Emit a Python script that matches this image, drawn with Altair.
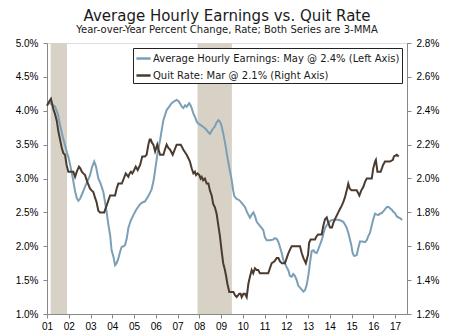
import altair as alt
import pandas as pd

# ---- data -------------------------------------------------------------
ahe_t = [2001.0, 2001.2, 2001.37, 2001.5, 2001.6, 2001.72, 2001.83, 2001.92, 2001.98, 2002.05,
         2002.13, 2002.2, 2002.29, 2002.37, 2002.44, 2002.52, 2002.6, 2002.75, 2002.85, 2002.98,
         2003.07, 2003.17, 2003.25, 2003.36, 2003.47, 2003.59, 2003.67, 2003.74, 2003.82, 2003.9,
         2003.97, 2004.05, 2004.13, 2004.2, 2004.28, 2004.36, 2004.43, 2004.52, 2004.59, 2004.67,
         2004.74, 2004.85, 2004.97, 2005.1, 2005.28, 2005.4, 2005.5, 2005.66, 2005.81, 2005.9,
         2005.97, 2006.07, 2006.2, 2006.28, 2006.35, 2006.5, 2006.62, 2006.73, 2006.85, 2006.96,
         2007.05, 2007.11, 2007.2, 2007.27, 2007.35, 2007.42, 2007.54, 2007.6, 2007.65, 2007.72,
         2007.8, 2007.88, 2007.96, 2008.1, 2008.19, 2008.3, 2008.4, 2008.49, 2008.6, 2008.72,
         2008.8, 2008.88, 2008.95, 2009.02, 2009.1, 2009.2, 2009.29, 2009.4, 2009.49, 2009.55,
         2009.61, 2009.72, 2009.84, 2009.95, 2010.1, 2010.2, 2010.33, 2010.42, 2010.49, 2010.56,
         2010.64, 2010.79, 2010.94, 2011.02, 2011.1, 2011.25, 2011.4, 2011.48, 2011.56, 2011.64,
         2011.71, 2011.79, 2011.86, 2012.02, 2012.1, 2012.17, 2012.25, 2012.32, 2012.4, 2012.48,
         2012.55, 2012.63, 2012.71, 2012.79, 2012.86, 2012.94, 2013.02, 2013.09, 2013.17, 2013.25,
         2013.32, 2013.4, 2013.5, 2013.63, 2013.72, 2013.78, 2013.86, 2013.93, 2014.05, 2014.16,
         2014.3, 2014.39, 2014.5, 2014.62, 2014.7, 2014.78, 2014.85, 2014.92, 2015.0, 2015.05,
         2015.11, 2015.17, 2015.24, 2015.3, 2015.39, 2015.5, 2015.62, 2015.7, 2015.77, 2015.85,
         2015.93, 2016.0, 2016.08, 2016.15, 2016.23, 2016.31, 2016.39, 2016.5, 2016.62, 2016.7,
         2016.77, 2016.85, 2016.92, 2017.0, 2017.08, 2017.2, 2017.33]
ahe_v = [4.13, 4.10, 4.06, 3.95, 3.79, 3.62, 3.49, 3.38, 3.32, 3.22,
         3.10, 2.98, 2.81, 2.71, 2.67, 2.70, 2.76, 2.88, 2.95, 3.05,
         3.17, 3.25, 3.18, 3.00, 2.92, 2.80, 2.65, 2.51, 2.32, 2.17,
         1.94, 1.85, 1.72, 1.75, 1.82, 1.92, 1.99, 2.00, 2.02, 2.12,
         2.27, 2.38, 2.46, 2.54, 2.62, 2.65, 2.66, 2.74, 2.84, 2.97,
         3.12, 3.35, 3.57, 3.73, 3.86, 4.01, 4.06, 4.11, 4.14, 4.16,
         4.14, 4.11, 4.06, 4.04, 4.08, 4.06, 4.11, 4.08, 4.04, 3.97,
         3.91, 3.84, 3.81, 3.78, 3.76, 3.73, 3.69, 3.66, 3.72, 3.77,
         3.83, 3.86, 3.84, 3.78, 3.67, 3.50, 3.32, 3.13, 2.98, 2.84,
         2.74, 2.70, 2.68, 2.64, 2.58, 2.50, 2.42, 2.47, 2.50, 2.45,
         2.36, 2.30, 2.24, 2.13, 2.09, 2.09, 2.10, 2.12, 2.11, 2.06,
         1.99, 1.90, 1.80, 1.69, 1.64, 1.56, 1.55, 1.59, 1.56, 1.50,
         1.42, 1.39, 1.36, 1.33, 1.35, 1.43, 1.58, 1.76, 1.93, 1.94,
         1.91, 1.90, 1.98, 2.09, 2.20, 2.27, 2.31, 2.34, 2.38, 2.39,
         2.39, 2.39, 2.38, 2.36, 2.32, 2.27, 2.20, 2.11, 2.00, 1.90,
         1.86, 1.86, 1.87, 1.96, 2.07, 2.07, 2.06, 2.09, 2.15, 2.20,
         2.31, 2.40, 2.48, 2.47, 2.46, 2.48, 2.49, 2.53, 2.58, 2.58,
         2.56, 2.54, 2.51, 2.49, 2.44, 2.42, 2.39]

quit_t = [2001.0, 2001.08, 2001.18, 2001.29, 2001.37, 2001.45, 2001.52, 2001.6, 2001.68, 2001.75,
          2001.83, 2001.9, 2001.98, 2002.1, 2002.21, 2002.29, 2002.37, 2002.47, 2002.53, 2002.6,
          2002.67, 2002.75, 2002.85, 2002.98, 2003.05, 2003.13, 2003.2, 2003.28, 2003.36, 2003.44,
          2003.55, 2003.63, 2003.74, 2003.82, 2003.9, 2004.0, 2004.13, 2004.2, 2004.28, 2004.36,
          2004.44, 2004.53, 2004.62, 2004.68, 2004.74, 2004.8, 2004.86, 2004.92, 2004.97, 2005.08,
          2005.17, 2005.28, 2005.38, 2005.5, 2005.58, 2005.66, 2005.72, 2005.77, 2005.83, 2005.89,
          2005.97, 2006.07, 2006.13, 2006.2, 2006.35, 2006.42, 2006.5, 2006.58, 2006.66, 2006.78,
          2006.87, 2006.96, 2007.05, 2007.15, 2007.27, 2007.42, 2007.5, 2007.57, 2007.65, 2007.73,
          2007.8, 2007.85, 2007.92, 2008.0, 2008.06, 2008.11, 2008.18, 2008.26, 2008.34, 2008.42,
          2008.49, 2008.57, 2008.64, 2008.72, 2008.8, 2008.88, 2008.95, 2009.03, 2009.1, 2009.18,
          2009.24, 2009.29, 2009.38, 2009.48, 2009.57, 2009.65, 2009.72, 2009.78, 2009.84, 2009.9,
          2009.95, 2010.03, 2010.1, 2010.18, 2010.26, 2010.33, 2010.41, 2010.48, 2010.56, 2010.64,
          2010.71, 2010.79, 2010.94, 2011.1, 2011.17, 2011.25, 2011.33, 2011.45, 2011.56, 2011.64,
          2011.71, 2011.8, 2011.94, 2012.02, 2012.1, 2012.17, 2012.25, 2012.4, 2012.55, 2012.63,
          2012.71, 2012.79, 2012.9, 2013.0, 2013.05, 2013.12, 2013.24, 2013.32, 2013.4, 2013.47,
          2013.63, 2013.7, 2013.78, 2013.86, 2013.93, 2014.01, 2014.1, 2014.17, 2014.24, 2014.39,
          2014.47, 2014.55, 2014.62, 2014.7, 2014.78, 2014.85, 2014.92, 2015.0, 2015.12, 2015.24,
          2015.36, 2015.45, 2015.54, 2015.62, 2015.7, 2015.8, 2015.93, 2016.0, 2016.08, 2016.12,
          2016.19, 2016.27, 2016.34, 2016.45, 2016.54, 2016.65, 2016.77, 2016.9, 2016.95, 2017.08,
          2017.17]
quit_v = [2.43, 2.45, 2.47, 2.41, 2.38, 2.34, 2.28, 2.23, 2.18, 2.15,
          2.14, 2.08, 2.04, 2.04, 2.04, 2.01, 2.04, 2.07, 2.06, 2.04,
          2.03, 2.02, 1.98, 1.94, 1.93, 1.92, 1.89, 1.86, 1.81, 1.80,
          1.80, 1.80, 1.84, 1.87, 1.90, 1.90, 1.90, 1.94, 1.97, 1.97,
          1.97, 2.00, 2.03, 2.02, 2.01, 2.03, 2.04, 2.03, 2.04, 2.07,
          2.05, 2.08, 2.13, 2.13, 2.14, 2.20, 2.23, 2.23, 2.21, 2.20,
          2.16, 2.20, 2.17, 2.14, 2.14, 2.17, 2.20, 2.18, 2.17, 2.14,
          2.17, 2.20, 2.20, 2.20, 2.17, 2.14, 2.12, 2.10, 2.06, 2.03,
          2.04, 2.02, 2.03, 2.02, 2.00, 2.01, 1.99, 2.00, 1.97, 1.97,
          1.93, 1.90, 1.85, 1.83, 1.79, 1.72, 1.66, 1.57, 1.50, 1.46,
          1.42, 1.38, 1.33, 1.33, 1.33, 1.31, 1.30, 1.31, 1.32, 1.32,
          1.30, 1.32, 1.32, 1.30, 1.38, 1.42, 1.46, 1.44, 1.47, 1.46,
          1.46, 1.44, 1.44, 1.44, 1.44, 1.47, 1.50, 1.51, 1.53, 1.53,
          1.51, 1.50, 1.50, 1.53, 1.56, 1.58, 1.60, 1.60, 1.60, 1.60,
          1.56, 1.53, 1.50, 1.55, 1.62, 1.64, 1.64, 1.64, 1.66, 1.67,
          1.67, 1.72, 1.76, 1.77, 1.74, 1.71, 1.71, 1.74, 1.76, 1.80,
          1.82, 1.84, 1.86, 1.89, 1.93, 1.97, 1.94, 1.93, 1.93, 1.93,
          1.90, 1.93, 1.95, 1.98, 2.00, 2.00, 2.00, 2.06, 2.10, 2.11,
          2.04, 2.04, 2.04, 2.08, 2.10, 2.10, 2.10, 2.11, 2.13, 2.14,
          2.13]

rec_start = [2001.17, 2007.92]
rec_end = [2001.92, 2009.5]

year_ticks = list(range(2001, 2018))
left_ticks = [1.0, 1.5, 2.0, 2.5, 3.0, 3.5, 4.0, 4.5, 5.0]
right_ticks = [1.2, 1.4, 1.6, 1.8, 2.0, 2.2, 2.4, 2.6, 2.8]

label_ahe = "Average Hourly Earnings: May @ 2.4% (Left Axis)"
label_quit = "Quit Rate: Mar @ 2.1% (Right Axis)"

# ---- chart ------------------------------------------------------------
FONT = "DejaVu Sans"
BLUE = "#7b9fb7"
BROWN = "#4a3b30"
SHADE = "#d8d1c5"
AX = "#555555"

ahe_df = pd.DataFrame({"t": ahe_t, "v": ahe_v, "s": label_ahe})
quit_df = pd.DataFrame({"t": quit_t, "v": quit_v, "s": label_quit})
rec_df = pd.DataFrame({"start": rec_start, "end": rec_end})

x_scale = alt.Scale(domain=[2001, 2017.55], nice=False, zero=False)
x_axis = alt.Axis(values=year_ticks, format="d", labelExpr="substring(datum.label, 2)",
                  tickSize=4, labelPadding=3, grid=False, title=None,
                  labelFontSize=10, labelFlush=False)

color_scale = alt.Scale(domain=[label_ahe, label_quit], range=[BLUE, BROWN])
legend = alt.Legend(title=None, orient="none", legendX=86, legendY=5,
                    symbolType="stroke", symbolSize=200, symbolStrokeWidth=2.5,
                    labelFont=FONT, labelFontSize=10, labelColor="#1a1a1a",
                    labelLimit=400,
                    strokeColor="#222222", fillColor="white", padding=2,
                    rowPadding=3, labelOffset=1, cornerRadius=0)

rec = alt.Chart(rec_df).mark_rect(color=SHADE).encode(
    x=alt.X("start:Q", scale=x_scale, axis=x_axis),
    x2="end:Q",
)

ahe = alt.Chart(ahe_df).mark_line(strokeWidth=2).encode(
    x=alt.X("t:Q", scale=x_scale, axis=x_axis),
    y=alt.Y("v:Q", scale=alt.Scale(domain=[1, 5], nice=False, zero=False),
            axis=alt.Axis(values=left_ticks, orient="left", title=None, grid=False,
                          labelExpr="format(datum.value, '.1f') + '%'",
                          tickSize=4, labelPadding=5, labelFontSize=10)),
    color=alt.Color("s:N", scale=color_scale, legend=legend),
)

quit = alt.Chart(quit_df).mark_line(strokeWidth=2).encode(
    x=alt.X("t:Q", scale=x_scale, axis=x_axis),
    y=alt.Y("v:Q", scale=alt.Scale(domain=[1.2, 2.8], nice=False, zero=False),
            axis=alt.Axis(values=right_ticks, orient="right", title=None, grid=False,
                          labelExpr="format(datum.value, '.1f') + '%'",
                          tickSize=4, labelPadding=5, labelFontSize=10)),
    color=alt.Color("s:N", scale=color_scale, legend=legend),
)

chart = alt.layer(rec, ahe, quit).resolve_scale(y="independent").properties(
    width=360,
    height=271,
    autosize=alt.AutoSizeParams(type="none"),
    padding={"left": 47, "top": 43, "right": 43, "bottom": 19},
    title=alt.Title(
        "Average Hourly Earnings vs. Quit Rate",
        subtitle="Year-over-Year Percent Change, Rate; Both Series are 3-MMA",
        font=FONT, fontSize=15, fontWeight="normal", color="#1a1a1a",
        subtitleFont=FONT, subtitleFontSize=10, subtitleColor="#1a1a1a",
        anchor="middle", frame="group", offset=3, subtitlePadding=1,
    ),
).configure_axis(
    labelFont=FONT, labelColor="#333333", domainColor=AX, tickColor=AX,
).configure_view(
    stroke="#999999", strokeWidth=1,
).configure(background="white")

chart.save("out.html", embed_options={"renderer": "svg", "actions": False})
